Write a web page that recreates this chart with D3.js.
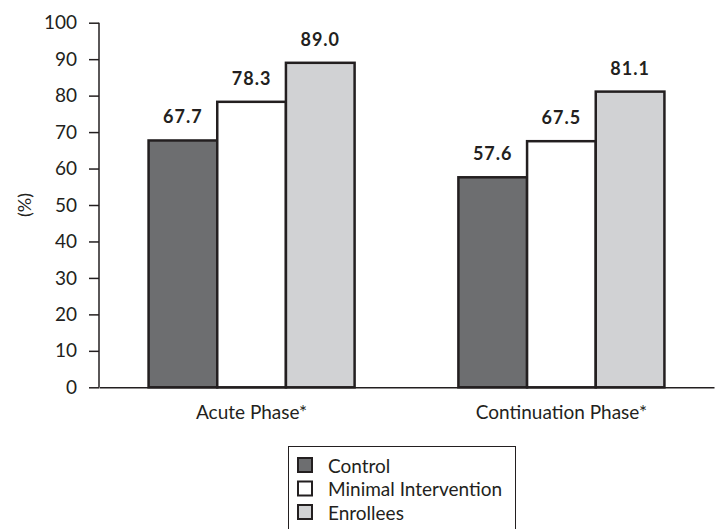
<!DOCTYPE html>
<html><head><meta charset="utf-8">
<script src="https://cdn.jsdelivr.net/npm/d3@7"></script>
<style>
html,body{margin:0;padding:0;background:#fff;}
text{font-family:Lato,"Open Sans",sans-serif;fill:#231f20;}
</style></head>
<body>
<svg id="chart" width="716" height="529"></svg>
<script>
const categories = ["Acute Phase*", "Continuation Phase*"];
const seriesNames = ["Control", "Minimal Intervention", "Enrollees"];
const control = [67.7, 57.6];
const minimal = [78.3, 67.5];
const enrollees = [89.0, 81.1];
const yTicks = [0, 10, 20, 30, 40, 50, 60, 70, 80, 90, 100];
const colors = ["#6d6e70", "#ffffff", "#d1d2d4"];

const seriesValues = [control, minimal, enrollees];
const data = categories.map((c, i) => ({
  cat: c,
  vals: seriesNames.map((s, j) => ({ s, v: seriesValues[j][i], j }))
}));

const svg = d3.select("#chart");
const ink = "#231f20";

const y = d3.scaleLinear().domain([0, 100]).range([387.3, 22.7]);
const x0 = d3.scaleBand().domain(categories).range([99, 714]).paddingInner(0.335).paddingOuter(0.16);
const x1 = d3.scaleBand().domain(seriesNames).range([0, x0.bandwidth()]).padding(0);

// y axis
const yAxis = svg.append("g").attr("transform", "translate(99,0)")
  .call(d3.axisLeft(y).tickValues(yTicks).tickSize(10).tickPadding(12).tickFormat(d3.format("d")));
yAxis.select(".domain").attr("stroke", ink).attr("stroke-width", 1.5).attr("d", `M0,${y(100)}V${y(0)}`);
yAxis.selectAll(".tick line").attr("stroke", ink).attr("stroke-width", 1.5);
yAxis.selectAll(".tick text").style("font-size", "19px").attr("fill", ink).style("font-family", "Lato, sans-serif");

// x axis
const xAxis = svg.append("g").attr("transform", `translate(0,${y(0)})`)
  .call(d3.axisBottom(x0).tickSize(0).tickPadding(18));
xAxis.select(".domain").attr("stroke", ink).attr("stroke-width", 1.5);
xAxis.selectAll(".tick text").style("font-size", "19px").attr("fill", ink).style("font-family", "Lato, sans-serif");

// y title
svg.append("text").attr("transform", `translate(31,${(y(0) + y(100)) / 2}) rotate(-90)`)
  .attr("text-anchor", "middle").style("font-size", "18px").text("(%)");

// bars
const groups = svg.append("g").selectAll("g").data(data).join("g")
  .attr("transform", d => `translate(${x0(d.cat)},0)`);
groups.selectAll("rect").data(d => d.vals).join("rect")
  .attr("x", d => x1(d.s))
  .attr("y", d => y(d.v))
  .attr("width", x1.bandwidth())
  .attr("height", d => y(0) - y(d.v))
  .attr("fill", d => colors[d.j])
  .attr("stroke", ink).attr("stroke-width", 2.5);
groups.selectAll("text.val").data(d => d.vals).join("text").attr("class", "val")
  .attr("x", d => x1(d.s) + x1.bandwidth() / 2)
  .attr("y", d => y(d.v) - 17)
  .attr("text-anchor", "middle")
  .style("font-size", "18px").style("font-weight", "bold").style("letter-spacing", "1px")
  .text(d => d3.format(".1f")(d.v));

// legend
const lg = svg.append("g");
lg.append("rect").attr("x", 288.5).attr("y", 446.5).attr("width", 227).attr("height", 100)
  .attr("fill", "none").attr("stroke", ink).attr("stroke-width", 1);
const items = lg.selectAll("g.item").data(seriesNames).join("g").attr("class", "item")
  .attr("transform", (d, i) => `translate(298,${458 + i * 23.5})`);
items.append("rect").attr("width", 14).attr("height", 14)
  .attr("fill", (d, i) => colors[i]).attr("stroke", ink).attr("stroke-width", 2);
items.append("text").attr("x", 30).attr("y", 14.5).style("font-size", "19px").text(d => d);
</script>
</body></html>
